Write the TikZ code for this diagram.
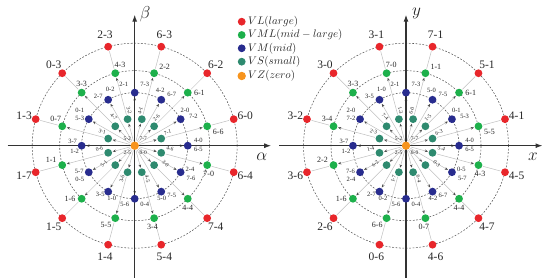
\documentclass[tikz,border=0pt]{standalone}
\usepackage{fontspec}
\setmainfont{Liberation Serif}
\usetikzlibrary{arrows.meta}
\pgfdeclarelayer{bg}
\pgfsetlayers{bg,main}
\definecolor{cRed}{HTML}{E8262B}
\definecolor{cGreen}{HTML}{1DB04B}
\definecolor{cBlue}{HTML}{282C8E}
\definecolor{cTeal}{HTML}{2E8A6F}
\definecolor{cOrange}{HTML}{F7941D}

\newcommand\spacediagram[6]{%
\begin{scope}[shift={#2}]
  \node[vz] (#1c) at (0,0) {};
  \node[teallab] (#1z1) at (-7.4,7.4) {5-2};
  \node[teallab] (#1z2) at (8.6,7.4) {7-7};
  \node[teallab] (#1z3) at (-7.4,-7) {2-5};
  \node[teallab] (#1z4) at (8.6,-7) {0-0};
  \foreach \k/\rl/\gl/\tl/\gla/\tla in {#3} {
    \pgfmathsetmacro\ang{15+30*\k}
    \pgfmathsetmacro\trot{\ang<90 ? \ang : (\ang<270 ? \ang-180 : \ang-360)}
    \pgfmathtruncatemacro\glb{mod(\gla+540,360)}
    \node[vl] (#1r\k) at (\ang:102.5) {};
    \node[vml] (#1g\k) at (\ang:75.03) {};
    \node[vs] (#1t\k) at (\ang:27.46) {};
    \node[redlab] (#1rl\k) at (\ang:114.5) {\rl};
    \path (#1g\k.center) ++(\gla:5.8) node[greenlab,anchor=\glb] (#1gl\k) {\gl};
    \node[teallab,rotate=\trot] (#1tl\k) at (\tla:35.5) {\tl};
  }
  \foreach \k/\la/\lb/\xa/\ya/\xb/\yb in {#4} {
    \node[vm] (#1b\k) at (30*\k:53.05) {};
    \path (#1b\k.center) ++(\xa,\ya) node[bluelab] (#1ba\k) {\la};
    \path (#1b\k.center) ++(\xb,\yb) node[bluelab] (#1bb\k) {\lb};
  }
  \coordinate (#1xa) at (-127,0);
  \coordinate (#1xb) at (136.5,0);
  \coordinate (#1ya) at (0,-132.5);
  \coordinate (#1yb) at (0,131);
  \node[axlab] (#1xl) at (127,-11.5) {#5};
  \node[axlab] (#1yl) at (10.5,132) {#6};
  \begin{pgfonlayer}{bg}
    \foreach \rr in {102.5,75.03,53.05} \draw[ring] (0,0) circle[radius=\rr pt];
    \foreach \k in {0,...,11} {
      \draw[rayarrow] (#1c) -- (#1t\k);
      \draw[rayarrow] (#1t\k) -- (#1g\k);
      \draw[ray] (#1g\k) -- (#1r\k);
      \draw[rayarrow] (#1c) -- (#1b\k);
    }
    \draw[axisline] (#1xa) -- (#1xb);
    \draw[axisline] (#1ya) -- (#1yb);
  \end{pgfonlayer}
\end{scope}}

\begin{document}
\begin{tikzpicture}[x=1pt,y=1pt,
  dotnode/.style={circle,inner sep=0pt,minimum size=7.8pt,outer sep=0.8pt},
  vl/.style={dotnode,fill=cRed},
  vml/.style={dotnode,fill=cGreen},
  vm/.style={dotnode,fill=cBlue},
  vs/.style={dotnode,fill=cTeal},
  vz/.style={dotnode,fill=cOrange,minimum size=8.4pt},
  ray/.style={draw=black!25,line width=0.5pt},
  rayarrow/.style={ray,-{Stealth[length=3.2pt,width=2.6pt,color=black!70]}},
  ring/.style={draw=black!65,line width=0.55pt,dash pattern=on 1.8pt off 1.6pt},
  axisline/.style={draw=black!80,line width=1.1pt,-{Latex[length=7pt,width=5pt]}},
  redlab/.style={font=\fontsize{11.5}{12}\selectfont,inner sep=0pt,text=black!85},
  greenlab/.style={font=\fontsize{8}{9}\selectfont,inner sep=0.3pt,text=black!85},
  bluelab/.style={font=\fontsize{6.5}{7}\selectfont,inner sep=0pt,text=black!85},
  teallab/.style={font=\fontsize{5.5}{6}\selectfont,inner sep=0pt,text=black!85},
  axlab/.style={font=\fontsize{18}{20}\selectfont,inner sep=0pt,text=black!85},
  leglab/.style={font=\fontsize{10.5}{12}\selectfont,anchor=west,inner sep=0pt,text=black!85}
]
\useasboundingbox (0,0) rectangle (550,278);

\spacediagram{L}{(134.7,132.3)}{%
0/6-0/6-6/7-1/-25/22,
1/6-2/6-1/2-6/0/52,
2/6-3/2-2/4-1/30/81,
3/2-3/4-3/3-2/60/99,
4/0-3/3-3/4-7/90/126,
5/1-3/0-7/3-1/130/156,
6/1-7/1-1/0-6/155/185,
7/1-5/1-6/5-1/180/210,
8/1-4/5-5/3-6/215/249,
9/5-4/3-4/4-5/260/291,
10/7-4/4-4/3-0/270/330,
11/6-4/7-0/4-6/280/355}{%
0/4-0/6-5/10.6/5/10.6/-4,
1/2-0/7-2/4.4/9/12.7/2.5,
2/4-2/6-7/-1/9.5/10.5/5.5,
3/2-1/7-3/-11/8/10/8,
4/0-2/2-7/2/10/-10/3,
5/0-1/5-3/-9/9/-9/1,
6/3-7/1-2/-9/4.5/-7/-5.5,
7/5-7/0-5/-9.5/1/-9/-7.5,
8/3-5/1-0/-8/-3/3.5/-6.5,
9/5-6/0-4/-10/-6/10/-6,
10/5-0/7-5/0.5/-7/10.5/-3.7,
11/2-4/7-6/9.4/2.5/10.4/-5.8}{$\alpha$}{$\beta$}

\spacediagram{R}{(406,132.3)}{%
0/4-1/5-5/6-3/-25/22,
1/5-1/6-1/1-5/0/52,
2/7-1/1-1/6-0/30/81,
3/3-1/7-0/1-3/60/99,
4/3-0/3-3/7-4/90/126,
5/3-2/3-4/2-3/130/156,
6/3-6/2-2/1-4/155/185,
7/2-6/1-6/6-2/180/210,
8/0-6/6-6/1-7/215/249,
9/4-6/0-7/6-4/260/291,
10/4-7/4-4/0-3/270/330,
11/4-5/4-3/5-4/280/355}{%
0/4-0/6-5/10.6/5/10.6/-4,
1/0-1/5-3/4.4/9/12.7/2.5,
2/5-0/7-5/-1/9.5/10.5/5.5,
3/2-1/7-3/-11/8/10/8,
4/1-0/3-5/2/10/-10/3,
5/2-0/7-2/-9/9/-9/1,
6/3-7/1-2/-9/4.5/-7/-5.5,
7/7-6/2-4/-9.5/1/-9/-7.5,
8/2-7/0-2/-8/-3/3.5/-6.5,
9/5-6/0-4/-10/-6/10/-6,
10/4-2/6-7/0.5/-7/10.5/-3.7,
11/0-5/5-7/9.4/2.5/10.4/-5.8}{$x$}{$y$}

% legend
\node[vl]  (legL)  at (241.7,256.3) {};
\node[leglab] (legLt) at (248,256.3) {$VL(large)$};
\node[vml] (legML) at (241.7,243) {};
\node[leglab] (legMLt) at (248,243) {$VML(mid-large)$};
\node[vm]  (legM)  at (241.7,229.7) {};
\node[leglab] (legMt) at (248,229.7) {$VM(mid)$};
\node[vs]  (legS)  at (241.7,216.3) {};
\node[leglab] (legSt) at (248,216.3) {$VS(small)$};
\node[vz]  (legZ)  at (241.7,202) {};
\node[leglab] (legZt) at (248,202) {$VZ(zero)$};
\end{tikzpicture}
\end{document}
